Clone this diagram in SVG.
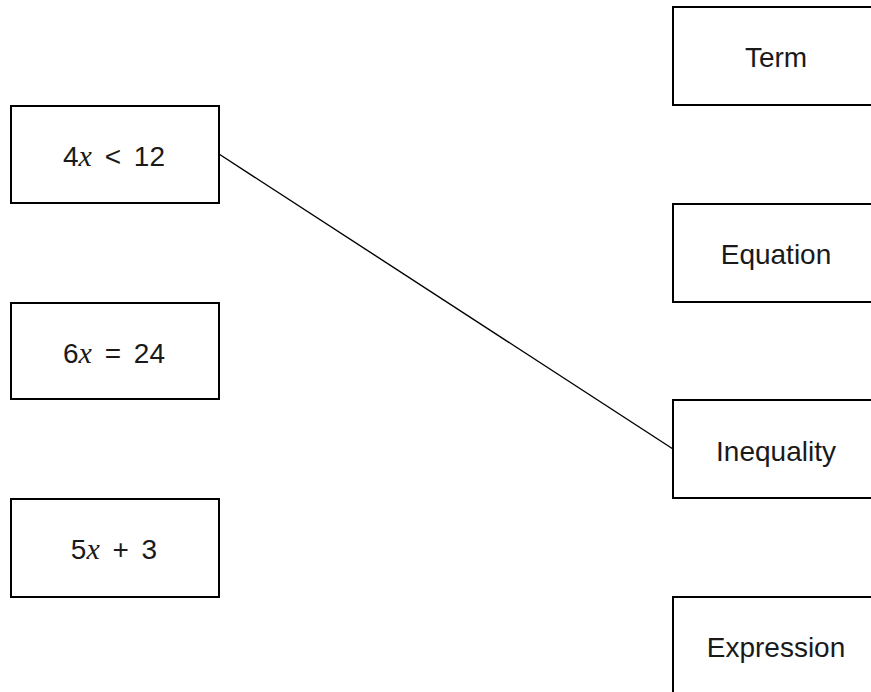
<svg xmlns="http://www.w3.org/2000/svg" width="871" height="692" viewBox="0 0 871 692">
<style>
.box{fill:#fff;stroke:#000;stroke-width:2}
.t{font-family:"Liberation Sans",Arial,sans-serif;font-size:28px;fill:#1a1a1a;text-anchor:middle}
.m{word-spacing:5px}
.v{font-family:"Liberation Serif","Times New Roman",serif;font-style:italic;font-size:30px}
.conn{stroke:#000;stroke-width:1.4;fill:none}
</style>
<rect width="871" height="692" fill="#fff"/>
<g id="connectors">
<line class="conn" x1="219" y1="154" x2="673" y2="449"/>
</g>
<g id="n-4x"><rect class="box" x="11" y="106" width="208" height="97"/><text class="t m" x="114" y="166">4<tspan class="v">x</tspan> &lt; 12</text></g>
<g id="n-6x"><rect class="box" x="11" y="303" width="208" height="96"/><text class="t m" x="114" y="363">6<tspan class="v">x</tspan> = 24</text></g>
<g id="n-5x"><rect class="box" x="11" y="499" width="208" height="98"/><text class="t m" x="114" y="559">5<tspan class="v">x</tspan> + 3</text></g>
<g id="n-term"><rect class="box" x="673" y="7" width="208" height="98"/><text class="t" x="776" y="67">Term</text></g>
<g id="n-equation"><rect class="box" x="673" y="204" width="208" height="98"/><text class="t" x="776" y="264">Equation</text></g>
<g id="n-inequality"><rect class="box" x="673" y="400" width="208" height="98"/><text class="t" x="776" y="461">Inequality</text></g>
<g id="n-expression"><rect class="box" x="673" y="597" width="208" height="98"/><text class="t" x="776" y="657">Expression</text></g>
</svg>
